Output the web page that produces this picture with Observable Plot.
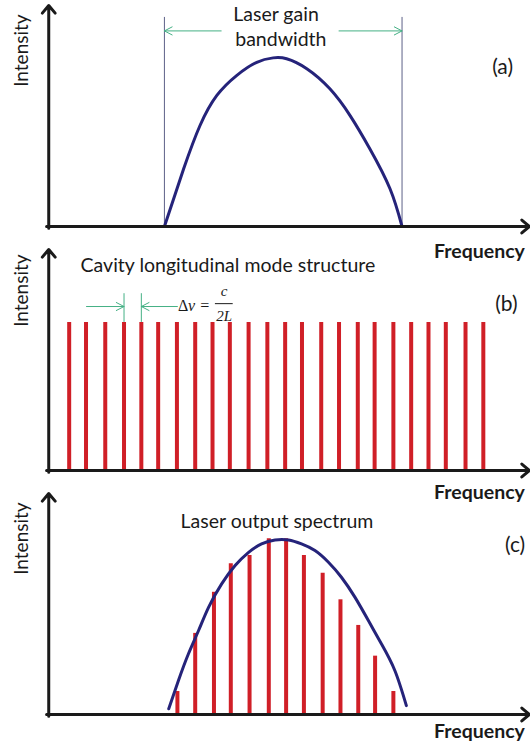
<!DOCTYPE html>
<html><head><meta charset="utf-8">
<script src="https://cdn.jsdelivr.net/npm/d3@7"></script>
<script src="https://cdn.jsdelivr.net/npm/@observablehq/plot@0.6"></script>
<style>
body{margin:0;background:#fff;}
#chart svg{display:block;overflow:visible;}
</style></head><body><div id="chart"></div>
<script>
// (a) Laser gain curve (frequency in arbitrary units 0–100, intensity 0–1)
const gainFreq = [24.1, 28.1, 31.5, 35.0, 39.1, 43.3, 46.7, 49.5, 53.7, 58.5, 62.7, 66.8, 71.0, 73.5];
const gainIntensity = [0, 0.261, 0.457, 0.593, 0.683, 0.743, 0.763, 0.759, 0.714, 0.623, 0.502, 0.352, 0.171, 0];
// (b) Cavity longitudinal modes
const modeFreq = [4.3, 7.8, 11.8, 15.7, 19.3, 22.8, 26.7, 30.5, 34.1, 37.7, 41.6, 45.5, 49.2, 52.7, 56.7, 60.4, 64.3, 67.8, 71.7, 75.4, 79.0, 82.6, 86.7, 90.4];
const modeIntensity = [0.67, 0.67, 0.67, 0.67, 0.67, 0.67, 0.67, 0.67, 0.67, 0.67, 0.67, 0.67, 0.67, 0.67, 0.67, 0.67, 0.67, 0.67, 0.67, 0.67, 0.67, 0.67, 0.67, 0.67];
// (c) Laser output spectrum
const outFreq = [26.8, 30.5, 34.4, 37.9, 41.8, 45.8, 49.4, 53.1, 57.0, 60.7, 64.4, 67.9, 71.7];
const outIntensity = [0.104, 0.367, 0.553, 0.682, 0.719, 0.795, 0.795, 0.719, 0.639, 0.519, 0.403, 0.264, 0.104];
const envFreq = [25.0, 27.0, 29.1, 31.2, 33.3, 36.0, 38.8, 41.6, 44.3, 47.1, 49.9, 52.6, 55.4, 58.2, 60.9, 63.7, 66.5, 69.2, 72.0, 74.4];
const envIntensity = [0.026, 0.153, 0.275, 0.38, 0.486, 0.591, 0.674, 0.734, 0.772, 0.79, 0.79, 0.772, 0.742, 0.689, 0.621, 0.531, 0.425, 0.32, 0.199, 0.04];
// texts
const panelLabels = ["(a)", "(b)", "(c)"];
const xLabel = "Frequency";
const yLabel = "Intensity";

const NAVY = "#25237a", RED = "#d01f27", GREEN = "#45b085", INK = "#1a1a1a";
const FONT = "Lato, 'Open Sans', sans-serif";
const SERIF = "'Liberation Serif', 'DejaVu Serif', serif";
const FS = 19.5;

const gainData = gainFreq.map((f, i) => ({f, v: gainIntensity[i]}));
const modeData = modeFreq.map((f, i) => ({f, v: modeIntensity[i]}));
const outData = outFreq.map((f, i) => ({f, v: outIntensity[i]}));
const envData = envFreq.map((f, i) => ({f, v: envIntensity[i]}));

function axesMarks(labelY, freqY, panelText, panelX, panelY) {
  return [
    Plot.arrow([0], {x1: -0.4, x2: 100, y1: 0, y2: 0, stroke: INK, strokeWidth: 3, headLength: 5, headAngle: 80}),
    Plot.arrow([0], {x1: 0.05, x2: 0.05, y1: -0.008, y2: 1, stroke: INK, strokeWidth: 3, headLength: 5, headAngle: 80}),
    Plot.text([yLabel], {x: -5.6, y: labelY, text: d => d, rotate: -90, fontSize: 19, fill: INK}),
    Plot.text([xLabel], {x: 89.6, y: freqY, text: d => d, fontSize: FS, fontWeight: "bold", fill: INK}),
    Plot.text([panelText], {x: panelX, y: panelY, text: d => d, fontSize: 21, fill: INK})
  ];
}

const common = (h) => ({
  width: 530, height: h, marginLeft: 48, marginRight: 1, marginTop: 5, marginBottom: h - 226,
  x: {domain: [0, 100], axis: null},
  y: {domain: [0, 1], axis: null},
  style: {fontFamily: FONT, overflow: "visible", background: "transparent"}
});

const chart = document.getElementById("chart");

// Panel (a)
chart.append(Plot.plot({
  ...common(244),
  marks: [
    Plot.ruleX([gainFreq[0], gainFreq[gainFreq.length - 1]], {y1: 0, y2: 0.946, stroke: "#5d6088", strokeWidth: 1}),
    Plot.arrow([{a: 35.9, b: gainFreq[0]}, {a: 60.4, b: gainFreq[gainFreq.length - 1]}],
      {x1: "a", x2: "b", y1: 0.885, y2: 0.885, stroke: GREEN, strokeWidth: 1, headLength: 13, headAngle: 55}),
    Plot.text(["Laser gain"], {x: 47.3, y: 0.958, text: d => d, fontSize: FS, fill: INK}),
    Plot.text(["bandwidth"], {x: 48.3, y: 0.843, text: d => d, fontSize: FS, fill: INK}),
    Plot.line(gainData, {x: "f", y: "v", stroke: NAVY, strokeWidth: 3, curve: "natural"}),
    ...axesMarks(0.796, -0.113, panelLabels[0], 94.4, 0.72)
  ]
}));

// Panel (b)
chart.append(Plot.plot({
  ...common(244),
  marks: [
    Plot.ruleX(modeData, {x: "f", y1: 0, y2: "v", stroke: RED, strokeWidth: 4}),
    Plot.ruleX([modeFreq[3], modeFreq[4]], {y1: 0.67, y2: 0.80, stroke: GREEN, strokeWidth: 1}),
    Plot.arrow([{a: 7.9, b: modeFreq[3]}, {a: 26.8, b: modeFreq[4]}],
      {x1: "a", x2: "b", y1: 0.742, y2: 0.742, stroke: GREEN, strokeWidth: 1, headLength: 13, headAngle: 55}),
    Plot.text(["Cavity longitudinal mode structure"], {x: 37.3, y: 0.928, text: d => d, fontSize: FS, fill: INK}),
    Plot.text(["Δ"], {x: 28.0, y: 0.745, text: d => d, fontSize: 16, fontFamily: SERIF, fill: INK}),
    Plot.text(["v ="], {x: 31.3, y: 0.745, text: d => d, fontSize: 16, fontStyle: "italic", fontFamily: SERIF, fill: INK}),
    Plot.text(["c"], {x: 36.5, y: 0.81, text: d => d, fontSize: 15, fontStyle: "italic", fontFamily: SERIF, fill: INK}),
    Plot.ruleY([0.755], {x1: 34.7, x2: 38.4, stroke: INK, strokeWidth: 1}),
    Plot.text(["2L"], {x: 36.5, y: 0.7, text: d => d, fontSize: 15, fontStyle: "italic", fontFamily: SERIF, fill: INK}),
    ...axesMarks(0.814, -0.1, panelLabels[1], 95.2, 0.75)
  ]
}));

// Panel (c)
chart.append(Plot.plot({
  ...common(265),
  marks: [
    Plot.ruleX(outData, {x: "f", y1: 0, y2: "v", stroke: RED, strokeWidth: 4}),
    Plot.line(envData, {x: "f", y: "v", stroke: NAVY, strokeWidth: 3, curve: "natural"}),
    Plot.text(["Laser output spectrum"], {x: 47.5, y: 0.873, text: d => d, fontSize: FS, fill: INK}),
    ...axesMarks(0.796, -0.077, panelLabels[2], 97.0, 0.765)
  ]
}));
</script></body></html>
